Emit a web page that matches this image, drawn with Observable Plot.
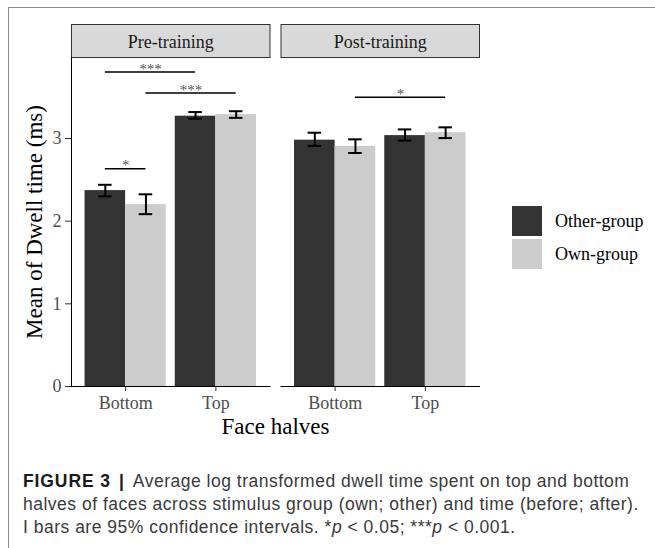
<!DOCTYPE html>
<html>
<head>
<meta charset="utf-8">
<script src="https://cdn.jsdelivr.net/npm/d3@7"></script>
<script src="https://cdn.jsdelivr.net/npm/@observablehq/plot@0.6"></script>
<style>
  html, body { margin: 0; padding: 0; background: #fff; width: 655px; height: 548px; overflow: hidden; }
  #box { position: absolute; left: 8px; top: 7px; width: 800px; height: 700px; border-left: 1px solid #8a8a8a; border-top: 1px solid #8a8a8a; }
  #chart { position: absolute; left: 0; top: 0; }
  #chart svg text { font-family: "Liberation Serif", "Times New Roman", serif; }
  g[aria-label="y-axis label"], g[aria-label="x-axis label"] { font-size: 23px; fill: #000; }
  #legend { position: absolute; left: 512px; top: 206px; font-family: "Liberation Serif", serif; font-size: 18px; color: #000; }
  .lrow { position: relative; height: 33px; }
  .lkey { position: absolute; left: 0; top: 0; width: 30px; height: 30px; }
  .llab { position: absolute; left: 43px; top: 3px; line-height: 24px; white-space: nowrap; }
  #caption { position: absolute; left: 23px; top: 470px; width: 640px; font-family: "Liberation Sans", Arial, sans-serif; font-size: 17.5px; letter-spacing: 0.5px; line-height: 23px; color: #3a3a3a; white-space: nowrap; }
  #caption b { color: #1a1a1a; letter-spacing: 0.9px; }
  #caption .sep { padding: 0 9px 0 8px; letter-spacing: 0; }
</style>
</head>
<body>
<div id="box"></div>
<div id="chart"></div>
<div id="legend"></div>
<div id="caption"><b>FIGURE 3</b><b class="sep">|</b>Average log transformed dwell time spent on top and bottom<br>halves of faces across stimulus group (own; other) and time (before; after).<br>I bars are 95% confidence intervals. *<i>p</i> &lt; 0.05; ***<i>p</i> &lt; 0.001.</div>
<script>
// ---- data ----
const times = ["Pre-training", "Post-training"];
const halves = ["Bottom", "Top"];
const groups = ["Other-group", "Own-group"];
// cells in order: Pre/Bottom, Pre/Top, Post/Bottom, Post/Top
const cellTime = ["Pre-training", "Pre-training", "Post-training", "Post-training"];
const cellHalf = ["Bottom", "Top", "Bottom", "Top"];
const otherMean = [2.37, 3.27, 2.98, 3.035];
const otherLow  = [2.30, 3.24, 2.91, 2.975];
const otherHigh = [2.44, 3.32, 3.07, 3.11];
const ownMean   = [2.20, 3.29, 2.905, 3.07];
const ownLow    = [2.085, 3.25, 2.825, 3.005];
const ownHigh   = [2.325, 3.33, 2.99, 3.135];
// significance brackets
const sigTime      = ["Pre-training", "Pre-training", "Pre-training", "Post-training"];
const sigFromHalf  = ["Bottom", "Bottom", "Bottom", "Bottom"];
const sigFromGroup = ["Other-group", "Other-group", "Own-group", "Own-group"];
const sigToHalf    = ["Bottom", "Top", "Top", "Top"];
const sigToGroup   = ["Own-group", "Other-group", "Own-group", "Own-group"];
const sigY         = [2.635, 3.805, 3.55, 3.50];
const sigLabel     = ["*", "***", "***", "*"];
const yTicks = [0, 1, 2, 3];
const colors = ["#333333", "#cccccc"];

// ---- build table ----
const dodge = 0.9;
const center = (half, group) => (halves.indexOf(half) + 1) - dodge / 2 + dodge / groups.length * (groups.indexOf(group) + 0.5);
const rows = [];
cellTime.forEach((t, i) => {
  rows.push({time: t, half: cellHalf[i], group: groups[0], mean: otherMean[i], lo: otherLow[i], hi: otherHigh[i]});
  rows.push({time: t, half: cellHalf[i], group: groups[1], mean: ownMean[i], lo: ownLow[i], hi: ownHigh[i]});
});
rows.forEach(r => {
  r.c = center(r.half, r.group);
  r.x1 = r.c - dodge / 4;
  r.x2 = r.c + dodge / 4;
});
const sig = sigTime.map((t, i) => {
  const a = center(sigFromHalf[i], sigFromGroup[i]);
  const b = center(sigToHalf[i], sigToGroup[i]);
  return {time: t, a, b, mid: (a + b) / 2, y: sigY[i], label: sigLabel[i]};
});
const capW = 0.075;

const W = 655, H = 445;
const mTop = 57, mBottom = H - 386, mLeft = 71, mRight = W - 479;
const panelH = H - mTop - mBottom;

const plot = Plot.plot({
  width: W,
  height: H,
  marginTop: mTop,
  marginBottom: mBottom,
  marginLeft: mLeft,
  marginRight: mRight,
  style: {fontFamily: "'Liberation Serif', 'Times New Roman', serif", fontSize: "18px", background: "transparent", color: "#000"},
  fx: {domain: times, paddingInner: 0.0525, paddingOuter: 0, round: false},
  x: {type: "linear", domain: [0.4, 2.6]},
  y: {domain: [0, 3.98]},
  color: {domain: groups, range: colors},
  marks: [
    // strips
    Plot.frame({fill: "#d9d9d9", stroke: "#333", strokeWidth: 1, insetTop: -33, insetBottom: panelH}),
    Plot.axisFx({anchor: "top", tickSize: 0, tickPadding: 10, fontSize: 18, label: null, fill: "#1a1a1a"}),
    // bars
    Plot.rect(rows, {fx: "time", x1: "x1", x2: "x2", y1: 0, y2: "mean", fill: "group"}),
    // error bars
    Plot.ruleX(rows, {fx: "time", x: "c", y1: "lo", y2: "hi", stroke: "#000", strokeWidth: 2}),
    Plot.ruleY(rows, {fx: "time", y: "lo", x1: d => d.c - capW, x2: d => d.c + capW, stroke: "#000", strokeWidth: 2}),
    Plot.ruleY(rows, {fx: "time", y: "hi", x1: d => d.c - capW, x2: d => d.c + capW, stroke: "#000", strokeWidth: 2}),
    // significance
    Plot.ruleY(sig, {fx: "time", y: "y", x1: "a", x2: "b", stroke: "#000", strokeWidth: 1.6}),
    Plot.text(sig, {fx: "time", x: "mid", y: "y", text: "label", dy: -3, fontSize: 15, fill: "#555"}),
    // axes
    Plot.frame({anchor: "bottom", stroke: "#000", strokeWidth: 1}),
    Plot.frame({anchor: "left", stroke: "#000", strokeWidth: 1, facetAnchor: "left"}),
    Plot.axisY({ticks: yTicks, tickFormat: d => String(d), tickSize: 6, tickPadding: 4, fontSize: 18, fill: "#4d4d4d", stroke: "#333",
      fontVariant: "normal", label: "Mean of Dwell time (ms)", labelAnchor: "center", labelOffset: 46, labelArrow: "none"}),
    Plot.axisX({ticks: [1, 2], tickFormat: d => halves[Math.round(d) - 1], tickSize: 5, tickPadding: 5, fontSize: 18,
      fill: "#4d4d4d", stroke: "#333", label: "Face halves", labelAnchor: "center", labelOffset: 47, labelArrow: "none"})
  ]
});
document.getElementById("chart").appendChild(plot);

// legend from the color scale
const cs = plot.scale("color");
const legend = document.getElementById("legend");
cs.domain.forEach((g, i) => {
  const row = document.createElement("div");
  row.className = "lrow";
  row.innerHTML = `<div class="lkey" style="background:${cs.range[i]}"></div><div class="llab">${g}</div>`;
  legend.appendChild(row);
});
</script>
</body>
</html>
